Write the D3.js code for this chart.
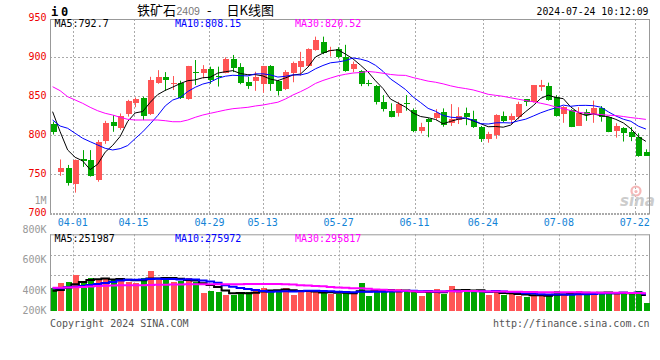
<!DOCTYPE html>
<html><head><meta charset="utf-8">
<script src="https://cdn.jsdelivr.net/npm/d3@7"></script>
<style>
body{margin:0;background:#fff}
svg{display:block}
text{font-family:"DejaVu Sans Mono",monospace;font-size:10px}
</style>
</head><body>
<svg id="c" width="660" height="360"></svg>
<script>
// ---------- data ----------
const dates=["03-27","03-28","03-29",
"04-01","04-02","04-03","04-08","04-09","04-10","04-11","04-12","04-15","04-16","04-17","04-18","04-19","04-22","04-23","04-24","04-25","04-26","04-29","04-30",
"05-06","05-07","05-08","05-09","05-10","05-13","05-14","05-15","05-16","05-17","05-20","05-21","05-22","05-23","05-24","05-27","05-28","05-29","05-30","05-31",
"06-03","06-04","06-05","06-06","06-07","06-11","06-12","06-13","06-14","06-17","06-18","06-19","06-20","06-21","06-24","06-25","06-26","06-27","06-28",
"07-01","07-02","07-03","07-04","07-05","07-08","07-09","07-10","07-11","07-12","07-15","07-16","07-17","07-18","07-19","07-22","07-23","07-24"];
const open=[814.5,753.5,757.5,737,769.5,768.5,742.5,793,817,809.5,
827.5,841,847.5,827.5,867.5,874.5,866.5,867.5,846.5,881.5,
879.5,885,876.5,880.5,897.5,888,868.5,870,866,889,
869.5,859.5,879.5,888,889,909.5,919,908.5,910.5,901,
885,883,867.5,863,843,831.5,829,842,832.5,806,
820.5,822,830.5,815.5,819.5,828,821,811,795.5,800.5,
824.5,819.5,824,846.5,843,862.5,863.5,849.5,827.5,832.5,
812,830.5,827.5,835.5,823,806,809,804.5,798,779];
const high=[817.5,769,762,769,781,781,794,818.5,826,828,
845.5,848.5,849.5,875,883.5,881,876,870,889,896.5,
890,888,888,900,903,892.5,875,881.5,889,890,
871,883.5,894.5,907,911.5,926.5,926.5,913.5,913,916,
894.5,883.5,871,864.5,851.5,841,843,851.5,834.5,816,
822,833.5,834.5,840,836,835.5,831.5,812,804.5,827,
830.5,828,843,846.5,864.5,871,867.5,851.5,837.5,833.5,
836,833.5,844.5,837.5,824,815.5,810.5,810.5,802.5,782];
const low=[801,748,735.5,726.5,759.5,747,740.5,789,804.5,807,
824,836,819.5,826,866,857,858,846.5,845.5,864.5,
873,866,862.5,879.5,881,865.5,859.5,857,854.5,857,
851,858,868,876.5,888,908.5,904,901,898.5,881.5,
881,863,863,839.5,830.5,823,824,831.5,804,802.5,
797.5,819.5,811,812,814.5,813,809.5,791.5,790.5,795.5,
816.5,814,820.5,837.5,842,857,844.5,824,816,810.5,
812,818.5,816,817.5,804,797,792,792.5,772.5,773.5];
const close=[804,757.5,738.5,768.5,767.5,748,792,816,812,825,
844,846.5,825,871,874.5,871,867.5,848,889,879.5,
885,871,874.5,897.5,886.5,866.5,863.5,875,889,866,
857,881,893,895.5,910.5,922,906,909.5,900,883,
891.5,865.5,866,843,833.5,824,840,840,805.5,811,
816.5,828,813,821,824.5,823,811,795,801.5,826,
818.5,824.5,840,843,864.5,864.5,845.5,824.5,836,811,
829,826,835.5,824,804.5,812,803.5,798,773.5,774];
const volume=[363000,453000,469000,576000,459000,533000,496000,533000,507000,501000,
469000,453000,533000,645000,496000,507000,459000,480000,533000,469000,
288000,320000,304000,256000,256000,304000,304000,331000,368000,331000,
331000,368000,256000,320000,320000,304000,288000,277000,267000,320000,
277000,448000,245000,352000,320000,309000,352000,304000,304000,245000,
320000,352000,277000,400000,304000,352000,304000,304000,256000,320000,
256000,277000,245000,229000,256000,245000,245000,320000,256000,288000,
320000,277000,304000,277000,304000,267000,304000,267000,320000,128000];
// moving-average values at the left edge (their history lies before the visible window)
const ma5Lead=[830.3,804.6,781.2,771.8];
const ma10Lead=[819.6,811.9,809,802.6,796.2,791.8,787.6,783.3,781.2];
const ma30Lead=[862.3,857.2,849.5,845.3,841,835.9,831.5,828.2,826,823.1,820.5,819.6,819.6,819.6,819.6,818.7,817.4,817.4,819.6,823.1,826,828.2,830.3,832.4,834.1,835,835.9,837.6,838.8];
const vma5Lead=[325000,336000,373000,427000];
const vma10Lead=[363000,363000,379000,389000,400000,416000,432000,448000,464000];
const vma30Lead=[373000,373000,376000,379000,384000,392000,400000,405000,408000,411000,411000,411000,413000,416000,419000,422000,424000,426000,427000,427000,427000,428000,429000,430000,430000,430000,431000,431000,432000];
const tickDates=["04-01","04-15","04-29","05-13","05-27","06-11","06-24","07-08","07-22"];
const priceTicks=[950,900,850,800,750,700];
const priceGrid=[900,850,800,750];
const volTickValues=[1000000,800000,600000,400000,200000];
const volTickLabels=["1M","800K","600K","400K","200K"];
const volTickPos=[204,233.3,262.7,294,314];
const priceMALegend=["792.7","808.15","820.52"];
const volMALegend=["251987","275972","295817"];
const maNames=["MA5","MA10","MA30"];
const maColors=["#000000","#0000ff","#ff00ff"];
const RED="#ff5555", GREEN="#00a600", GRID="#aaaaaa", FRAME="#999999";

// ---------- helpers ----------
function movingAvg(arr,n,lead){
  return arr.map((v,i)=> i<lead.length ? lead[i] : d3.mean(arr.slice(i-n+1,i+1)));
}
const svg=d3.select("#c");
const L=50, R=649;
const pTop=19, pBot=213.5;
const vTop=234.3, vBot=311;

const x=d3.scaleBand().domain(dates).range([48.85,649.65]);
const cx=d=>x(d)+x.bandwidth()/2;
const xg=d3.scalePoint().domain(dates).range([50,650]);
const y=d3.scaleLinear().domain([700,950]).range([213.3,18.3]);
const yv=d3.scaleLinear().domain([0,1000000]).range([vBot,vBot-62.5]);
const yvLab=d3.scaleOrdinal().domain(volTickValues).range(volTickPos);

const data=dates.map((d,i)=>({d,o:open[i],h:high[i],l:low[i],c:close[i],v:volume[i]}));
const mas=[movingAvg(close,5,ma5Lead),movingAvg(close,10,ma10Lead),movingAvg(close,30,ma30Lead)];
const vmas=[movingAvg(volume,5,vma5Lead),movingAvg(volume,10,vma10Lead),movingAvg(volume,30,vma30Lead)];

// ---------- header ----------
svg.append("text").attr("x",51).attr("y",16).style("font-size","12px").style("font-weight","bold").text("i");
svg.append("text").attr("x",61).attr("y",16).style("font-size","12px").style("font-weight","bold").text("0");
const t=svg.append("text").attr("y",14.5).style("font-family","'Noto Sans CJK SC',sans-serif").style("font-size","13px");
t.append("tspan").attr("x",137).text("铁矿石");
t.append("tspan").attr("x",176.5).style("font-family","'Liberation Sans',sans-serif").style("font-size","10.5px").attr("fill","#777").text("2409");
t.append("tspan").attr("x",207).text("-");
t.append("tspan").attr("x",226.5).text("日K线图");
svg.append("text").attr("x",648.5).attr("y",15).attr("text-anchor","end").style("font-size","10.5px").attr("textLength",112).attr("lengthAdjust","spacingAndGlyphs").text("2024-07-24 10:12:09");

// ---------- price panel grid ----------
const gp=svg.append("g");
gp.selectAll("line.h").data(priceGrid).enter().append("line")
  .attr("x1",L).attr("x2",R).attr("y1",d=>Math.round(y(d))+0.5).attr("y2",d=>Math.round(y(d))+0.5)
  .attr("stroke",GRID).attr("stroke-dasharray","2,2");
gp.selectAll("line.v").data(tickDates).enter().append("line")
  .attr("x1",d=>Math.round(xg(d))+0.5).attr("x2",d=>Math.round(xg(d))+0.5).attr("y1",pTop).attr("y2",pBot)
  .attr("stroke",GRID).attr("stroke-dasharray","2,2");

// watermark
const wm=svg.append("g");
wm.append("circle").attr("cx",636).attr("cy",191).attr("r",4.5).attr("fill","none").attr("stroke","#f6b8b8").attr("stroke-width",2.2);
wm.append("circle").attr("cx",636).attr("cy",191.5).attr("r",1.6).attr("fill","#f6b8b8");
wm.append("text").attr("x",620).attr("y",206).style("font-family","'DejaVu Sans',sans-serif").style("font-size","15px").style("font-weight","bold").style("font-style","italic").attr("fill","#cccccc").text("sina");

// frame
svg.append("line").attr("x1",L).attr("x2",R+0.5).attr("y1",pTop+0.5).attr("y2",pTop+0.5).attr("stroke",FRAME);
svg.append("line").attr("x1",L+0.5).attr("x2",L+0.5).attr("y1",pTop).attr("y2",pBot+1).attr("stroke",FRAME);
svg.append("line").attr("x1",R+0.5).attr("x2",R+0.5).attr("y1",pTop).attr("y2",pBot+1).attr("stroke",FRAME);
svg.append("line").attr("x1",L).attr("x2",R+1).attr("y1",pBot+0.5).attr("y2",pBot+0.5).attr("stroke",GRID).attr("stroke-width",2).attr("stroke-dasharray","2,1");

// price labels
svg.selectAll("text.py").data(priceTicks).enter().append("text")
  .attr("x",46.5).attr("y",d=>y(d)+2.5).attr("text-anchor","end").attr("fill","#ee0000").text(d=>d);
// x labels
svg.selectAll("text.xl").data(tickDates).enter().append("text")
  .attr("x",d=>xg(d)).attr("y",225.5).attr("text-anchor","middle").attr("fill","#1283d6").text(d=>d);

// candles
const cg=svg.append("g");
cg.selectAll("line.w").data(data).enter().append("line")
  .attr("x1",d=>Math.round(cx(d.d))+0.5).attr("x2",d=>Math.round(cx(d.d))+0.5)
  .attr("y1",d=>y(d.h)).attr("y2",d=>y(d.l))
  .attr("stroke",d=>d.c>=d.o?RED:GREEN);
cg.selectAll("rect").data(data).enter().append("rect")
  .attr("x",d=>Math.round(cx(d.d))-2.5).attr("width",6)
  .attr("y",d=>y(Math.max(d.o,d.c))).attr("height",d=>Math.max(1.2,Math.abs(y(d.o)-y(d.c))))
  .attr("fill",d=>d.c>=d.o?RED:GREEN).attr("shape-rendering","crispEdges");

// price MAs
mas.forEach((m,k)=>{
  svg.append("path").datum(m)
    .attr("d",d3.line().x((v,i)=>cx(dates[i])).y(v=>y(v)))
    .attr("fill","none").attr("stroke",maColors[k]).attr("stroke-width",1);
});
// legend
const lx=[54.5,175,295];
maNames.forEach((n,k)=>{
  svg.append("text").attr("x",lx[k]).attr("y",27).attr("fill",maColors[k]).text(n+":"+priceMALegend[k]);
});

// ---------- volume panel ----------
const volGridY=[255.5,275.5];
svg.selectAll("line.vh").data(volGridY).enter().append("line")
  .attr("x1",L).attr("x2",R).attr("y1",d=>d).attr("y2",d=>d).attr("stroke",GRID).attr("stroke-dasharray","2,2");
svg.selectAll("line.vv").data(tickDates).enter().append("line")
  .attr("x1",d=>Math.round(xg(d))+0.5).attr("x2",d=>Math.round(xg(d))+0.5).attr("y1",vTop).attr("y2",vBot)
  .attr("stroke",GRID).attr("stroke-dasharray","2,2");
svg.append("line").attr("x1",L).attr("x2",R+0.5).attr("y1",vTop+0.5).attr("y2",vTop+0.5).attr("stroke",FRAME);
svg.append("line").attr("x1",L+0.5).attr("x2",L+0.5).attr("y1",vTop).attr("y2",vBot).attr("stroke",FRAME);
svg.append("line").attr("x1",R+0.5).attr("x2",R+0.5).attr("y1",vTop).attr("y2",vBot).attr("stroke",FRAME);

svg.append("g").selectAll("rect").data(data).enter().append("rect")
  .attr("x",d=>Math.round(cx(d.d))-2.5).attr("width",6)
  .attr("y",d=>yv(d.v)).attr("height",d=>vBot-yv(d.v))
  .attr("fill",d=>d.c>=d.o?RED:GREEN).attr("shape-rendering","crispEdges");

vmas.forEach((m,k)=>{
  svg.append("path").datum(m)
    .attr("d",d3.line().curve(d3.curveStep).x((v,i)=>cx(dates[i])).y(v=>yv(v)))
    .attr("fill","none").attr("stroke",maColors[k]).attr("stroke-width",2);
});
maNames.forEach((n,k)=>{
  svg.append("text").attr("x",lx[k]).attr("y",242).attr("fill",maColors[k]).text(n+":"+volMALegend[k]);
});
svg.selectAll("text.vl").data(volTickValues).enter().append("text")
  .attr("x",46.5).attr("y",d=>yvLab(d)).attr("text-anchor","end").attr("fill","#999").text((d,i)=>volTickLabels[i]);

// footer
svg.append("text").attr("x",50).attr("y",327).attr("fill","#555").text("Copyright 2024 SINA.COM");
svg.append("text").attr("x",649.5).attr("y",327).attr("text-anchor","end").attr("fill","#555").text("http://finance.sina.com.cn");
</script>
</body></html>
